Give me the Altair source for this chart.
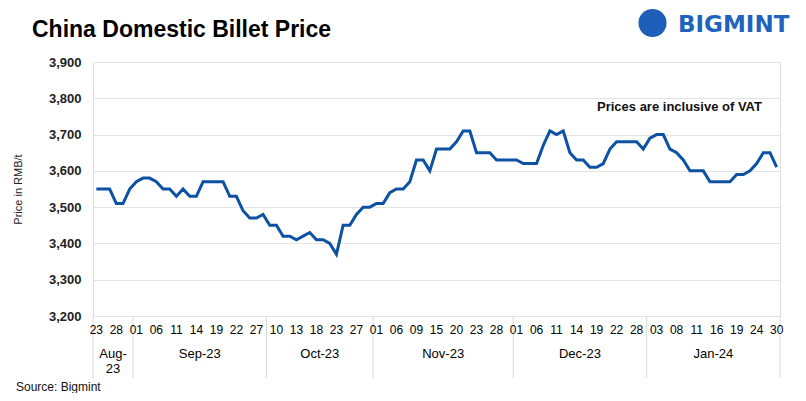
import altair as alt
import pandas as pd

# ---- data ----
month_labels = ["Aug-\n23", "Sep-23", "Oct-23", "Nov-23", "Dec-23", "Jan-24"]
days_by_month = [
    ["23", "24", "25", "28", "30", "31"],
    ["01", "04", "05", "06", "07", "08", "11", "12", "13", "14", "15", "18", "19",
     "20", "21", "22", "25", "26", "27", "28"],
    ["09", "10", "11", "12", "13", "16", "17", "18", "19", "20", "23", "24", "25",
     "27", "30", "31"],
    ["01", "02", "03", "06", "07", "08", "09", "10", "13", "15", "16", "17", "20",
     "21", "22", "23", "24", "27", "28", "29", "30"],
    ["01", "04", "05", "06", "07", "08", "11", "12", "13", "14", "15", "18", "19",
     "20", "21", "22", "25", "26", "28", "29"],
    ["02", "03", "04", "05", "08", "09", "10", "11", "12", "15", "16", "17", "18",
     "19", "22", "23", "24", "25", "29", "30"],
]
prices = [
    3550, 3550, 3550, 3510, 3510, 3550,
    3570, 3580, 3580, 3570, 3550, 3550, 3530, 3550, 3530, 3530, 3570, 3570, 3570,
    3570, 3530, 3530, 3490, 3470, 3470, 3480,
    3450, 3450, 3420, 3420, 3410, 3420, 3430, 3410, 3410, 3400, 3370, 3450, 3450,
    3480, 3500, 3500,
    3510, 3510, 3540, 3550, 3550, 3570, 3630, 3630, 3600, 3660, 3660, 3660, 3680,
    3710, 3710, 3650, 3650, 3650, 3630, 3630, 3630,
    3630, 3620, 3620, 3620, 3670, 3710, 3700, 3710, 3650, 3630, 3630, 3610, 3610,
    3620, 3660, 3680, 3680, 3680, 3680, 3660,
    3690, 3700, 3700, 3660, 3650, 3630, 3600, 3600, 3600, 3570, 3570, 3570, 3570,
    3590, 3590, 3600, 3620, 3650, 3650, 3610,
]
y_ticks = [3200, 3300, 3400, 3500, 3600, 3700, 3800, 3900]
label_step = 3
title_text = "China Domestic Billet Price"
note_text = "Prices are inclusive  of VAT"
source_text = "Source: Bigmint"
logo_text = "BIGMINT"

# ---- tables built from the lists ----
days = [d for m in days_by_month for d in m]
n = len(days)
df = pd.DataFrame({"idx": list(range(n)), "day": days, "price": prices})

bounds, centers = [], []
start = 0
for m in days_by_month:
    bounds.append(start - 0.5)
    centers.append(start - 0.5 + len(m) / 2)
    start += len(m)
bounds.append(start - 0.5)
sep_df = pd.DataFrame({"b": bounds})
month_df = pd.DataFrame({"c": centers, "label": month_labels})

FONT = "Liberation Sans"
W, H = 687, 254
xs = alt.Scale(domain=[-0.5, n - 0.5], nice=False, zero=False)
ys = alt.Scale(domain=[y_ticks[0], y_ticks[-1]], nice=False, zero=False)

line = alt.Chart(df).mark_line(color="#0c51a3", strokeWidth=3).encode(
    x=alt.X("idx:Q", scale=xs, axis=alt.Axis(
        values=list(range(0, n, label_step)), labels=False, title=None, grid=False,
        ticks=False, domainColor="#d9d9d9")),
    y=alt.Y("price:Q", scale=ys, axis=alt.Axis(
        values=y_ticks, format=",.0f", title="Price in RMB/t", grid=True,
        gridColor="#e4e4e4", ticks=False, domain=False, labelFontWeight="bold",
        labelFontSize=13, labelColor="#222222", labelPadding=12, labelFont=FONT,
        titleFontSize=11, titleFontWeight="normal", titleColor="#222222",
        titleFont=FONT, titleAngle=-90, titleX=-75, titleY=H / 2,
        titleBaseline="middle", titleAlign="center")),
)

day_labels = alt.Chart(df).transform_filter(
    f"datum.idx % {label_step} == 0").mark_text(
    baseline="top", align="center", fontSize=12, font=FONT,
    color="#000000").encode(
    x=alt.X("idx:Q", scale=xs, axis=None),
    y=alt.value(H + 9),
    text="day:N",
)

seps = alt.Chart(sep_df).mark_rule(color="#d9d9d9", strokeWidth=1).encode(
    x=alt.X("b:Q", scale=xs, axis=None),
    y=alt.value(H), y2=alt.value(H + 62),
)

months = alt.Chart(month_df).mark_text(
    baseline="top", align="center", lineBreak="\n", fontSize=13, lineHeight=15,
    font=FONT, color="#000000").encode(
    x=alt.X("c:Q", scale=xs, axis=None),
    y=alt.value(286),
    text="label:N",
)

title = alt.Chart(pd.DataFrame({"t": [title_text]})).mark_text(
    align="left", baseline="alphabetic", fontSize=23, fontWeight="bold",
    font=FONT, color="#000000").encode(
    x=alt.value(-61), y=alt.value(-25), text="t:N")

note = alt.Chart(pd.DataFrame({"t": [note_text]})).mark_text(
    align="left", baseline="middle", fontSize=13, fontWeight="bold",
    font=FONT, color="#111111").encode(
    x=alt.value(504), y=alt.value(45), text="t:N")

source = alt.Chart(pd.DataFrame({"t": [source_text]})).mark_text(
    align="left", baseline="middle", fontSize=12, font=FONT,
    color="#111111").encode(x=alt.value(-77), y=alt.value(325), text="t:N")

logo_icon = alt.Chart(pd.DataFrame({"t": [logo_text]})).mark_point(
    filled=True, shape="circle", size=790, color="#1d5fb8", opacity=1).encode(
    x=alt.value(559.5), y=alt.value(-39))

logo = alt.Chart(pd.DataFrame({"t": [logo_text]})).mark_text(
    align="left", baseline="middle", fontSize=23, fontWeight="bold",
    font="DejaVu Sans", color="#1f63be").encode(
    x=alt.value(585), y=alt.value(-37), text="t:N")

chart = alt.layer(
    seps, line, day_labels, months, title, note, source, logo_icon, logo
).properties(
    width=W, height=H,
    padding={"left": 85, "top": 54, "right": 10, "bottom": 77},
    autosize=alt.AutoSizeParams(type="none"),
).configure_view(stroke=None).configure(font=FONT)

chart.save("out.html", embed_options={"renderer": "svg", "actions": False})
